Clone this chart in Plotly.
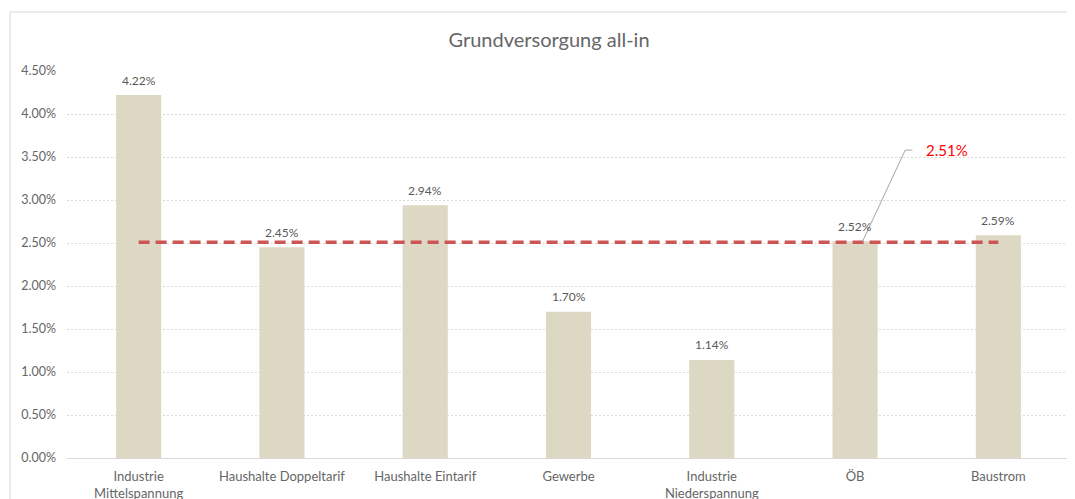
import plotly.graph_objects as go

categories = ["Industrie<br>Mittelspannung", "Haushalte Doppeltarif", "Haushalte Eintarif",
              "Gewerbe", "Industrie<br>Niederspannung", "ÖB", "Baustrom"]
values = [0.0422, 0.0245, 0.0294, 0.0170, 0.0114, 0.0252, 0.0259]
average = 0.0251
tick_vals = [0, 0.005, 0.01, 0.015, 0.02, 0.025, 0.03, 0.035, 0.04, 0.045]

FONT = "Lato, 'Open Sans', sans-serif"
GREY = "#666666"

fig = go.Figure()
fig.add_trace(go.Bar(
    x=list(range(len(categories))), y=values,
    marker=dict(color="#DDD8C3", line=dict(width=0)),
    width=0.315, hoverinfo="skip",
))
fig.add_trace(go.Scatter(
    x=[0, len(categories) - 1], y=[average, average], mode="lines",
    line=dict(color="#CD5555", width=3.5, dash="11px,6px"), hoverinfo="skip",
))

# data labels
for i, v in enumerate(values):
    fig.add_annotation(x=i, y=v, xref="x", yref="y", text=f"{v*100:.2f}%", showarrow=False,
                       yanchor="middle", yshift=15,
                       font=dict(size=12, color="#595959", family=FONT))

# leader line + label for average
fig.add_shape(type="path", xref="x", yref="y",
              path=f"M 5.05,{average} L 5.35,{average+0.0107} L 5.40,{average+0.0107}",
              line=dict(color="#A6A6A6", width=1))
fig.add_annotation(x=5.48, y=average + 0.0107, xref="x", yref="y", xanchor="left",
                   text=f"{average*100:.2f}%", showarrow=False,
                   font=dict(size=15, color="#FF0000", family=FONT))

# outer chart border
fig.add_shape(type="rect", xref="paper", yref="paper", x0=-0.0568, x1=1.05, y0=-0.3, y1=1.1525,
              line=dict(color="#D9D9D9", width=1), fillcolor="rgba(0,0,0,0)", layer="below")

fig.update_layout(
    width=1075, height=499,
    margin=dict(l=59, r=13, t=63, b=49, autoexpand=False),
    paper_bgcolor="white", plot_bgcolor="white",
    showlegend=False,
    bargap=0.685,
    title=dict(text="Grundversorgung all-in", x=541/1075, xanchor="center", y=1-32/499, yanchor="middle",
               font=dict(size=20, color=GREY, family=FONT)),
    font=dict(family=FONT, color=GREY),
    xaxis=dict(
        tickmode="array", tickvals=list(range(len(categories))), ticktext=categories,
        range=[-0.5, len(categories) - 0.5], showgrid=False, zeroline=False, automargin=False,
        showline=True, linecolor="#D9D9D9", linewidth=1, ticks="", ticklabelstandoff=6,
        tickfont=dict(size=13, color=GREY, family=FONT),
    ),
    yaxis=dict(
        range=[0, 0.045], tickmode="array", tickvals=tick_vals, tickformat=".2%", automargin=False,
        showgrid=True, gridcolor="#D9D9D9", griddash="2px,2px", gridwidth=1,
        zeroline=False, showline=False, ticks="", ticklabelstandoff=10,
        tickfont=dict(size=12.5, color=GREY, family=FONT),
    ),
)

fig.write_html("out.html")
